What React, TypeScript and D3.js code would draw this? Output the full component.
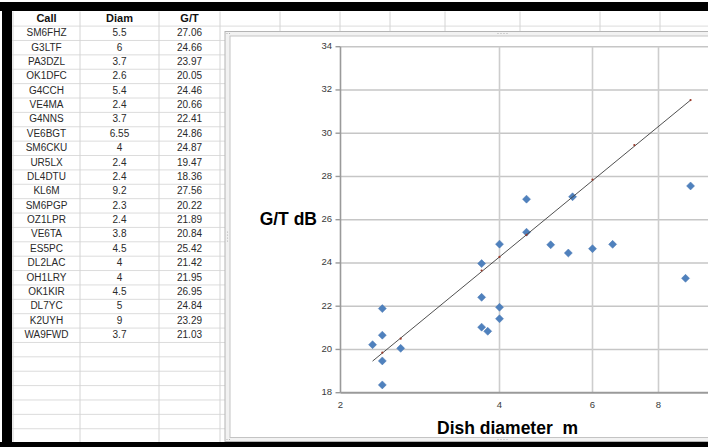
import React from 'react';
import * as d3 from 'd3';

const calls = ['SM6FHZ','G3LTF','PA3DZL','OK1DFC','G4CCH','VE4MA','G4NNS','VE6BGT','SM6CKU','UR5LX','DL4DTU','KL6M','SM6PGP','OZ1LPR','VE6TA','ES5PC','DL2LAC','OH1LRY','OK1KIR','DL7YC','K2UYH','WA9FWD'];
const diam = [5.5,6,3.7,2.6,5.4,2.4,3.7,6.55,4,2.4,2.4,9.2,2.3,2.4,3.8,4.5,4,4,4.5,5,9,3.7];
const gt = [27.06,24.66,23.97,20.05,24.46,20.66,22.41,24.86,24.87,19.47,18.36,27.56,20.22,21.89,20.84,25.42,21.42,21.95,26.95,24.84,23.29,21.03];
const headers = ['Call','Diam','G/T'];
const xTicks = [2,4,6,8];
const yTicks = [18,20,22,24,26,28,30,32,34];
const trendX = [2.3, 9.2];
const trendY = [19.46, 31.53];
const trendDotX = [2.4, 2.6, 3.7, 4, 4.5, 6, 7.2, 9.2];
const trendDotY = [19.85, 20.5, 23.65, 24.28, 25.3, 27.85, 29.45, 31.53];

const sheetCols = [13, 80, 159, 220, 280, 340, 390, 445, 520, 600, 660];

export default function App() {
  const W = 708, H = 447;
  const x = d3.scaleLog().domain([2, 8]).range([340.5, 658.5]);
  const y = d3.scaleLinear().domain([18, 34]).range([392.7, 46.7]);
  const plotL = 340.5, plotR = 760, plotT = y(34), plotB = y(18);

  const rowTop = 11.5, headerBottom = 26.1, rowH = 14.38;
  const rowSeps: number[] = [];
  for (let v = headerBottom; v < 442; v += rowH) rowSeps.push(v);
  const colCenters = [46.5, 119.5, 189.5];

  const line = d3.line<number>().x((_, i) => x(trendX[i])).y((_, i) => y(trendY[i]));
  const diamond = (cx: number, cy: number, r: number) => `M${cx},${cy - r}L${cx + r},${cy}L${cx},${cy + r}L${cx - r},${cy}Z`;

  return (
    <svg width={W} height={H} style={{ position: 'absolute', left: 0, top: 0, background: '#fff' }} fontFamily="Liberation Sans, Arial, sans-serif">
      <rect x={0} y={0} width={W} height={H} fill="#fff" />
      {/* spreadsheet grid */}
      {rowSeps.map((v, i) => (
        <line key={'r' + i} x1={12} x2={W} y1={v} y2={v} stroke="#dcdcdc" strokeWidth={1} />
      ))}
      {sheetCols.map((c, i) => (
        <line key={'c' + i} x1={c} x2={c} y1={rowTop} y2={442} stroke="#d4d4d4" strokeWidth={1} />
      ))}
      {/* table header */}
      {headers.map((h, i) => (
        <text key={'h' + i} x={colCenters[i]} y={(rowTop + headerBottom) / 2 + 0.5} textAnchor="middle" dominantBaseline="middle" fontSize={11} fontWeight="bold" fill="#111">{h}</text>
      ))}
      {calls.map((c, i) => {
        const cy = headerBottom + rowH * i + rowH / 2 + 0.2;
        return (
          <g key={'t' + i} fontSize={10} fill="#2a2a2a">
            <text x={colCenters[0]} y={cy} textAnchor="middle" dominantBaseline="middle">{c}</text>
            <text x={colCenters[1]} y={cy} textAnchor="middle" dominantBaseline="middle">{String(diam[i])}</text>
            <text x={colCenters[2]} y={cy} textAnchor="middle" dominantBaseline="middle">{gt[i].toFixed(2)}</text>
          </g>
        );
      })}

      {/* chart frame */}
      <rect x={225} y={31.5} width={W} height={410} fill="#f2f2f2" stroke="#b4b4b4" strokeWidth={1} />
      <rect x={230} y={36} width={W} height={401.5} fill="#fff" stroke="#c4c4c4" strokeWidth={1} />
      <g fill="#a8a8a8">
        {[0, 1, 2, 3].map(k => <circle key={'gt' + k} cx={498 + k * 3} cy={33.5} r={0.6} />)}
        {[0, 1, 2, 3].map(k => <circle key={'gb' + k} cx={498 + k * 3} cy={439.5} r={0.6} />)}
        {[0, 1, 2, 3].map(k => <circle key={'gl' + k} cx={227.5} cy={232 + k * 3} r={0.6} />)}
        <circle cx={227} cy={33.5} r={0.6} /><circle cx={229.5} cy={33.5} r={0.6} />
        <circle cx={227} cy={439.5} r={0.6} /><circle cx={229.5} cy={439.5} r={0.6} />
      </g>

      {/* gridlines */}
      {yTicks.filter(t => t > 18).map(t => (
        <line key={'gy' + t} x1={plotL} x2={plotR} y1={y(t)} y2={y(t)} stroke="#c6c6c6" strokeWidth={1.6} />
      ))}
      {xTicks.filter(t => t > 2).map(t => (
        <line key={'gx' + t} x1={x(t)} x2={x(t)} y1={plotT} y2={plotB} stroke="#cdcdcd" strokeWidth={1.6} />
      ))}
      {/* axes */}
      <line x1={plotL} x2={plotL} y1={plotT} y2={plotB} stroke="#9a9a9a" strokeWidth={1.6} />
      <line x1={plotL} x2={plotR} y1={plotB} y2={plotB} stroke="#9a9a9a" strokeWidth={2} />
      {yTicks.map(t => (
        <g key={'ty' + t}>
          <line x1={plotL - 5} x2={plotL} y1={y(t)} y2={y(t)} stroke="#9a9a9a" strokeWidth={1.4} />
          <text x={332} y={y(t)} textAnchor="end" dominantBaseline="middle" fontSize={9.5} fill="#3a3a3a">{t}</text>
        </g>
      ))}
      {xTicks.map(t => (
        <text key={'tx' + t} x={x(t)} y={405.5} textAnchor="middle" dominantBaseline="middle" fontSize={9.5} fill="#3a3a3a">{t}</text>
      ))}

      {/* axis titles */}
      <text x={317} y={220} textAnchor="end" dominantBaseline="middle" fontSize={17.5} fontWeight="bold" fill="#000">G/T dB</text>
      <text x={437} y={429.5} textAnchor="start" dominantBaseline="middle" fontSize={17.5} fontWeight="bold" fill="#000" style={{ whiteSpace: 'pre' }}>{'Dish diameter  m'}</text>

      {/* data points */}
      {diam.map((d, i) => (
        <path key={'p' + i} d={diamond(x(d), y(gt[i]), 4)} fill="#4f81bd" stroke="#4a79b2" strokeWidth={0.5} />
      ))}

      {/* trend line */}
      <path d={line(trendX) || ''} fill="none" stroke="#3c3c3c" strokeWidth={0.9} />
      {trendDotX.map((d, i) => (
        <circle key={'td' + i} cx={x(d)} cy={y(trendDotY[i])} r={1.1} fill="#9a3a2a" />
      ))}

      {/* black frame */}
      <rect x={0} y={2} width={W} height={9} fill="#000" />
      <rect x={2} y={2} width={10} height={H} fill="#000" />
      <rect x={0} y={442} width={W} height={5} fill="#000" />
    </svg>
  );
}
